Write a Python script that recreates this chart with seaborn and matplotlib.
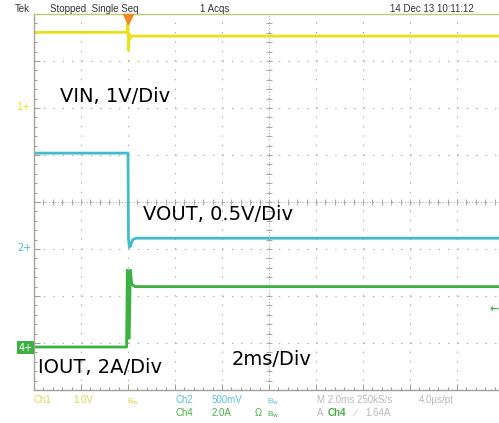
import numpy as np
import pandas as pd
import matplotlib
matplotlib.use("Agg")
import matplotlib.pyplot as plt
import seaborn as sns

# ==============================================================================
# DATOS (leidos de la captura del osciloscopio)
# ==============================================================================
# tiempo en ms, 0 = disparo; 2 ms/div
vin_t = [-4.0, -0.04, 0.0, 0.02, 0.05, 0.08, 0.15, 16.0]
vin_v = [1.59, 1.59, 1.81, 1.21, 1.55, 1.45, 1.51, 1.51]

vout_t = [-4.0, 0.0, 0.02, 0.06, 0.1, 0.2, 0.35, 16.0]
vout_v = [1.01, 1.01, 0.10, 0.01, 0.02, 0.09, 0.105, 0.105]

iout_t = [-4.0, -0.06, -0.03, 0.0, 0.05, 0.1, 0.16, 0.3, 16.0]
iout_a = [0.03, 0.03, 3.3, 0.5, 0.4, 3.3, 2.7, 2.6, 2.6]

# escala (unidad/div) y posicion de tierra (div) de cada canal
canales = {
    "VIN": dict(escala=1.0, tierra=2.02, color="#e8e01a"),
    "VOUT": dict(escala=0.5, tierra=-0.98, color="#41bccb"),
    "IOUT": dict(escala=2.0, tierra=-3.1, color="#3cb043"),
}
nivel_disparo = 1.64  # A, Ch4

frames = []
for nombre, t, v in [("VIN", vin_t, vin_v), ("VOUT", vout_t, vout_v), ("IOUT", iout_t, iout_a)]:
    c = canales[nombre]
    d = pd.DataFrame({"t": t, "valor": v})
    d["div"] = d["valor"] / c["escala"] + c["tierra"]
    d["canal"] = nombre
    frames.append(d)
df = pd.concat(frames, ignore_index=True)

# ==============================================================================
# FIGURA
# ==============================================================================
sns.set_style("white")
plt.rcParams["font.family"] = ["DejaVu Sans"]

W, H = 499, 423
fig = plt.figure(figsize=(W / 100, H / 100), dpi=100)
ax = fig.add_axes([34 / W, 1 - 390 / H, 470 / W, 376 / H])


def px(x, y):
    return x / W, 1 - y / H


# reticula punteada
gris = "#a8a8a8"
ax.set_xlim(-4, 16)
ax.set_ylim(-4, 4)
ax.set_xticks(np.arange(-4, 17, 2))
ax.set_xticks(np.arange(-4, 16.01, 0.4), minor=True)
ax.set_yticks(np.arange(-4, 5, 1))
ax.set_yticks(np.arange(-4, 4.01, 0.2), minor=True)
ax.grid(which="major", color=gris, lw=0.8, linestyle=(0, (1.2, 7.26)))
ax.tick_params(which="both", direction="in", labelleft=False, labelbottom=False,
               left=True, bottom=True, color="#9a9a90", width=0.7)
ax.tick_params(which="major", length=4)
ax.tick_params(which="minor", length=2.5)

ax.spines["right"].set_visible(False)
ax.spines["left"].set_color("#a8a494")
ax.spines["bottom"].set_color("#a0a0a0")
ax.spines["top"].set_color("#c4c97a")
for s in ["left", "bottom", "top"]:
    ax.spines[s].set_linewidth(1.0)

# ejes centrales con marcas
ax.axhline(0, color=gris, lw=0.7, linestyle=(0, (1, 2)))
ax.axvline(6, color=gris, lw=0.7, linestyle=(0, (1, 2)))
mx = np.arange(-4, 16.01, 0.4)
ax.plot(mx, np.zeros_like(mx), ls="none", marker="|", ms=4, mew=0.7, color=gris)
my = np.arange(-4, 4.01, 0.2)
ax.plot(np.full_like(my, 6), my, ls="none", marker="_", ms=4, mew=0.7, color=gris)

# trazas
paleta = {k: v["color"] for k, v in canales.items()}
sns.lineplot(data=df, x="t", y="div", hue="canal", palette=paleta, estimator=None,
             sort=False, lw=2.0, legend=False, ax=ax)
ax.set_xlabel("")
ax.set_ylabel("")

# marcador de disparo
ax.plot(0, 3.9, marker="v", ms=7, color="#f08a24", clip_on=False, zorder=5)

# indicadores de canal (izquierda)
for nombre, etiqueta in [("VIN", "1"), ("VOUT", "2")]:
    c = canales[nombre]
    ax.annotate(etiqueta + "+", xy=(0, c["tierra"]), xycoords=("axes fraction", "data"),
                xytext=(-12, 0), textcoords="offset points", ha="left", va="center",
                fontsize=7, color=c["color"])
ax.annotate("4+", xy=(0, canales["IOUT"]["tierra"]), xycoords=("axes fraction", "data"),
            xytext=(-11, 0), textcoords="offset points", ha="left", va="center",
            fontsize=7, color="white",
            bbox=dict(boxstyle="square,pad=0.15", fc="#3cb043", ec="none"))
# nivel de disparo (derecha)
niv = nivel_disparo / canales["IOUT"]["escala"] + canales["IOUT"]["tierra"]
ax.annotate("\u2190", xy=(15.6, niv), xycoords="data", ha="center", va="center",
            fontsize=8, color="#3cb043", fontweight="bold", annotation_clip=False)

# rotulos de las trazas
fs = 14
fig.text(*px(60, 102), "VIN, 1V/Div", fontsize=fs, color="black")
fig.text(*px(143, 220), "VOUT, 0.5V/Div", fontsize=fs, color="black")
fig.text(*px(38, 373), "IOUT, 2A/Div", fontsize=fs, color="black")
fig.text(*px(232, 365), "2ms/Div", fontsize=fs, color="black")

# barra superior
fsm = 7
fuente = ["Liberation Sans", "DejaVu Sans"]
fig.text(*px(15, 12), "Tek", fontsize=fsm, color="#333333", family=fuente)
fig.text(*px(50, 12), "Stopped  Single Seq", fontsize=fsm, color="#333333", family=fuente)
fig.text(*px(200, 12), "1 Acqs", fontsize=fsm, color="#333333", family=fuente)
fig.text(*px(390, 12), "14 Dec 13 10:11:12", fontsize=fsm, color="#333333", family=fuente)

# barra inferior
amarillo = "#dcd64a"
cian = "#5cc0dc"
verde = "#44b044"
claro = "#b8b8b8"
fila1, fila2 = 403, 416
fig.text(*px(34, fila1), "Ch1", fontsize=fsm, color=amarillo, family=fuente)
fig.text(*px(73, fila1), "1.0V", fontsize=fsm, color=amarillo, family=fuente)
fig.text(*px(127, fila1), r"B$_\mathrm{w}$", fontsize=6, color=amarillo, family=fuente)
fig.text(*px(175, fila1), "Ch2", fontsize=fsm, color=cian, family=fuente)
fig.text(*px(212, fila1), "500mV", fontsize=fsm, color=cian, family=fuente)
fig.text(*px(267, fila1), r"B$_\mathrm{w}$", fontsize=6, color=cian, family=fuente)
fig.text(*px(317, fila1), "M 2.0ms 250kS/s", fontsize=fsm, color=claro, family=fuente)
fig.text(*px(419, fila1), "4.0\u00b5s/pt", fontsize=fsm, color=claro, family=fuente)
fig.text(*px(175, fila2), "Ch4", fontsize=fsm, color=verde, family=fuente)
fig.text(*px(212, fila2), "2.0A", fontsize=fsm, color=verde, family=fuente)
fig.text(*px(255, fila2), "\u03a9", fontsize=fsm, color=verde, family=fuente)
fig.text(*px(267, fila2), r"B$_\mathrm{w}$", fontsize=6, color=verde, family=fuente)
fig.text(*px(317, fila2), "A", fontsize=fsm, color=claro, family=fuente)
fig.text(*px(328, fila2), "Ch4", fontsize=fsm, color=verde, family=fuente, fontweight="bold")
fig.text(*px(355, fila2), "\u2215", fontsize=fsm, color=claro, family=fuente)
fig.text(*px(365, fila2), "1.64A", fontsize=fsm, color=claro, family=fuente)

fig.savefig("out.png", dpi=100)
